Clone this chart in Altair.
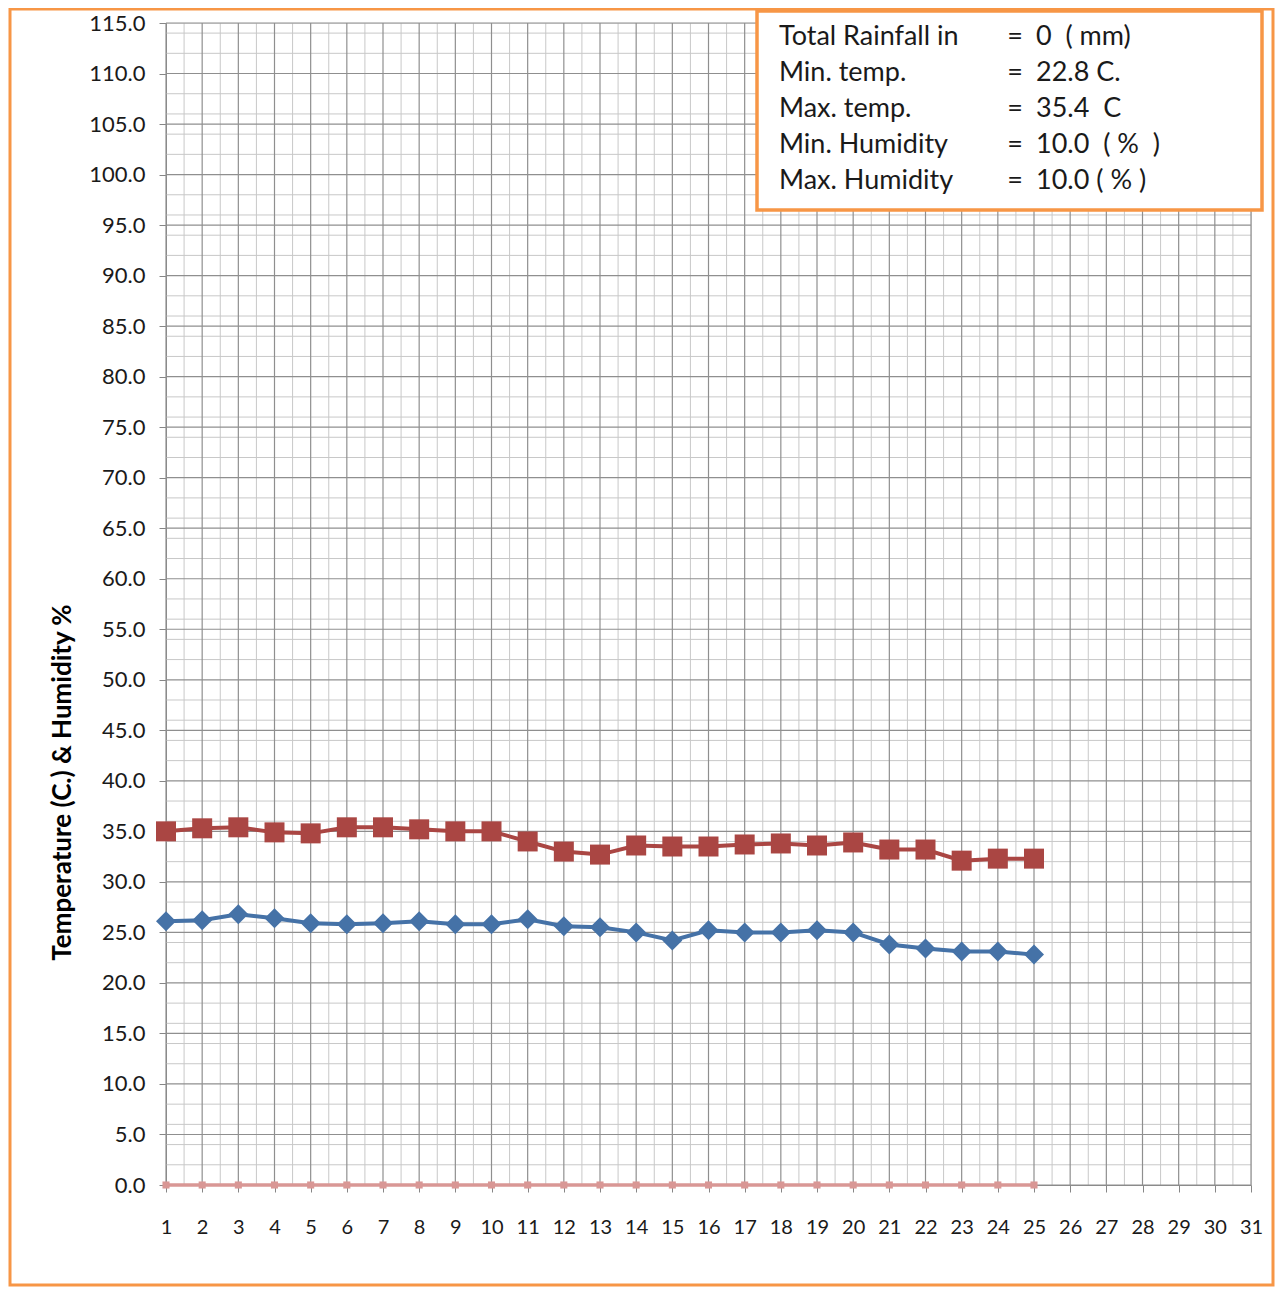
import altair as alt
import pandas as pd

# ---------------- data ----------------
days = list(range(1, 26))
max_temp = [35.0, 35.3, 35.4, 34.9, 34.8, 35.4, 35.4, 35.2, 35.0, 35.0, 34.0, 33.0, 32.7,
            33.6, 33.5, 33.5, 33.7, 33.8, 33.6, 33.9, 33.2, 33.2, 32.1, 32.3, 32.3]
min_temp = [26.1, 26.2, 26.8, 26.4, 25.9, 25.8, 25.9, 26.1, 25.8, 25.8, 26.3, 25.6, 25.5,
            25.0, 24.2, 25.2, 25.0, 25.0, 25.2, 25.0, 23.8, 23.4, 23.1, 23.1, 22.8]
humidity = [0.0] * 25

x_ticks = list(range(1, 32))
y_ticks = list(range(0, 120, 5))
x_minor = [i + 0.5 for i in range(1, 31)]
y_minor = [v for v in range(2, 115, 2) if v % 10 != 0]

info_labels = ["Total Rainfall in", "Min. temp.", "Max. temp.", "Min. Humidity", "\u00a0Max. Humidity"]
info_values = ["\u00a0\u00a00\u00a0\u00a0( mm)", "22.8 C.", "35.4\u00a0\u00a0C", "10.0\u00a0\u00a0( %\u00a0\u00a0)",
               "\u00a010.0 ( % )"]

FONT = "Lato"
W, H = 1085, 1162

df = pd.DataFrame({"day": days, "max": max_temp, "min": min_temp, "hum": humidity})

xs = alt.Scale(domain=[1, 31], nice=False, zero=False)
ys = alt.Scale(domain=[0, 115], nice=False)

xaxis = alt.Axis(values=x_ticks, format="d", grid=False, tickSize=7, tickColor="#868686",
                 domainColor="#868686", labelFontSize=20, labelPadding=25, labelFont=FONT,
                 labelColor="#1a1a1a", title=None, labelFlush=False, labelOverlap=False)
yaxis = alt.Axis(values=y_ticks, format=".1f", grid=False, tickSize=7, tickColor="#868686",
                 domainColor="#868686", labelFontSize=22, labelPadding=14, labelFont=FONT,
                 labelColor="#1a1a1a", labelOverlap=False, title="Temperature (C.) & Humidity %",
                 titleFont=FONT, titleFontSize=26, titleFontWeight="bold", titleColor="#000000",
                 titleX=-104, titleY=759, titleAlign="center", titleBaseline="middle")


def X(f):
    return alt.X(f, scale=xs, axis=xaxis)


def Y(f):
    return alt.Y(f, scale=ys, axis=yaxis)


# ---------------- grid ----------------
vminor = alt.Chart(pd.DataFrame({"x": x_minor})).mark_rule(color="#c8c8c8", strokeWidth=1).encode(x=X("x:Q"))
hminor = alt.Chart(pd.DataFrame({"y": y_minor})).mark_rule(color="#c8c8c8", strokeWidth=1).encode(y=Y("y:Q"))
vmajor = alt.Chart(pd.DataFrame({"x": x_ticks})).mark_rule(color="#8f8f8f", strokeWidth=1.2).encode(x=X("x:Q"))
hmajor = alt.Chart(pd.DataFrame({"y": y_ticks})).mark_rule(color="#8f8f8f", strokeWidth=1.2).encode(y=Y("y:Q"))

# ---------------- series ----------------
base = alt.Chart(df).encode(x=X("day:Q"))

hum_line = base.mark_line(color="#d99795", strokeWidth=3.5).encode(y=Y("hum:Q"))
hum_pts = base.mark_point(shape="square", filled=True, size=50, color="#d99795", opacity=1).encode(y=Y("hum:Q"))
min_line = base.mark_line(color="#4572a7", strokeWidth=4).encode(y=Y("min:Q"))
min_pts = base.mark_point(shape="diamond", filled=True, size=400, color="#4572a7", opacity=1).encode(y=Y("min:Q"))
max_line = base.mark_line(color="#aa4643", strokeWidth=4).encode(y=Y("max:Q"))
max_pts = base.mark_point(shape="square", filled=True, size=400, color="#aa4643", opacity=1).encode(y=Y("max:Q"))

# ---------------- decorations ----------------
outer = alt.Chart(df.head(1)).mark_rect(fill=None, stroke="#f79646", strokeWidth=3).encode(
    x=alt.value(-156), x2=alt.value(1107), y=alt.value(-14), y2=alt.value(1262))

box = alt.Chart(df.head(1)).mark_rect(fill="white", stroke="#f79646", strokeWidth=3.5).encode(
    x=alt.value(591), x2=alt.value(1096), y=alt.value(-12), y2=alt.value(187))

txt_labels = alt.Chart(df.head(1)).mark_text(
    align="left", baseline="middle", font=FONT, fontSize=27, lineHeight=36, color="#1a1a1a"
).encode(x=alt.value(613), y=alt.value(14), text=alt.value(info_labels))

txt_eq = alt.Chart(df.head(1)).mark_text(
    align="center", baseline="middle", font=FONT, fontSize=27, lineHeight=36, color="#1a1a1a"
).encode(x=alt.value(849), y=alt.value(14), text=alt.value(["="] * 5))

txt_vals = alt.Chart(df.head(1)).mark_text(
    align="left", baseline="middle", font=FONT, fontSize=27, lineHeight=36, color="#1a1a1a"
).encode(x=alt.value(870), y=alt.value(14), text=alt.value(info_values))

chart = alt.layer(
    vminor, hminor, vmajor, hmajor,
    hum_line, hum_pts, min_line, min_pts, max_line, max_pts,
    outer, box, txt_labels, txt_eq, txt_vals
).properties(
    width=W, height=H,
    autosize=alt.AutoSizeParams(type="none"),
    padding={"left": 158, "top": 15, "right": 24, "bottom": 102},
).configure_view(stroke=None).configure(background="white")

chart.save("out.html", embed_options={"renderer": "svg", "actions": False})
